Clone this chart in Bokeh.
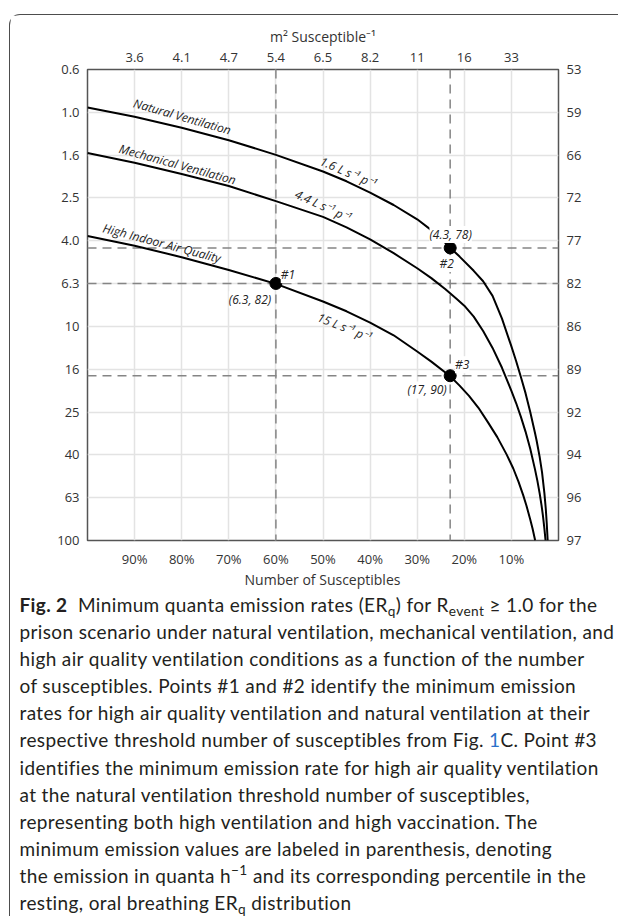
import math
from bokeh.plotting import figure
from bokeh.models import FixedTicker, LinearAxis, LogAxis, Range1d, Label, Div, Span
from bokeh.layouts import column
from bokeh.embed import file_html
from bokeh.resources import INLINE
from bokeh.core.properties import value

# ---------------- data ----------------
pct_ticks = [90, 80, 70, 60, 50, 40, 30, 20, 10]
pct_tick_labels = ["90%", "80%", "70%", "60%", "50%", "40%", "30%", "20%", "10%"]
area_tick_labels = ["3.6", "4.1", "4.7", "5.4", "6.5", "8.2", "11", "16", "33"]
er_ticks = [0.631, 1.0, 1.585, 2.512, 3.981, 6.31, 10.0, 15.85, 25.12, 39.81, 63.1, 100.0]
er_tick_labels = ["0.6", "1.0", "1.6", "2.5", "4.0", "6.3", "10", "16", "25", "40", "63", "100"]
percentile_tick_labels = ["53", "59", "66", "72", "77", "82", "86", "89", "92", "94", "96", "97"]

natural_pct = [100, 90, 80, 70, 60, 50, 45, 40, 35, 30, 27, 24, 23, 21, 18, 16, 14, 12, 10, 9, 8,
               7, 6, 5, 4.65, 4, 3.5, 3, 2.7, 2.5, 2.3]
natural_er = [0.95, 1.05, 1.18, 1.35, 1.58, 1.89, 2.1, 2.37, 2.71, 3.16, 3.55, 4.08, 4.29, 4.72, 5.5,
              6.15, 7.2, 9.2, 12.4, 14.5, 17.2, 20.5, 25.1, 31.4, 34.1, 40.7, 47.9, 59.9, 71.1, 82.8, 100]

mechanical_pct = [100, 90, 80, 70, 60, 50, 45, 40, 35, 30, 27, 24, 21.6, 20, 18, 16, 14, 12, 10, 9,
                  8, 7, 6, 5, 4.5, 4, 3.6, 3.3, 3, 2.75]
mechanical_er = [1.55, 1.72, 1.94, 2.21, 2.6, 3.08, 3.45, 3.92, 4.55, 5.35, 5.95, 6.7, 7.44, 8.0, 9.0,
                 10.5, 12.6, 15.6, 20.0, 22.8, 26.4, 31.0, 37.3, 46.4, 52.4, 60.2, 68.5, 76.7, 87.8, 100]

hiaq_pct = [100, 90, 80, 70, 60, 50, 45, 40, 35, 30, 27, 23, 21, 19, 17, 15, 13, 11, 9.6, 8.5, 7.5,
            6.8, 6, 5.5, 4.95]
hiaq_er = [3.78, 4.2, 4.75, 5.45, 6.33, 7.65, 8.5, 9.6, 11.0, 13.1, 14.6, 17.1, 18.9, 21.1, 24.0, 28.0,
           32.9, 39.7, 46.1, 53.1, 61.4, 68.8, 79.8, 88.1, 100]

point_names = ["#1", "#2", "#3"]
point_pct = [60, 23, 23]
point_er = [6.3, 4.3, 17]
point_pctile = [82, 78, 90]
ref_vlines_pct = [60, 23]
ref_hlines_er = [4.3, 6.3, 17]

curve_names = ["Natural Ventilation", "Mechanical Ventilation", "High Indoor Air Quality"]
flow_names = ["1.6 L s\u207b\u00b9 p\u207b\u00b9", "4.4 L s\u207b\u00b9 p\u207b\u00b9", "15 L s\u207b\u00b9 p\u207b\u00b9"]

# ---------------- figure ----------------
FONT = "Open Sans"
TXT = "#333333"

p = figure(frame_width=471, frame_height=471,
           x_range=Range1d(100, 0), y_range=Range1d(100, 0.631),
           y_axis_type="log", output_backend="svg", toolbar_location=None,
           min_border_left=77, min_border_right=56, min_border_top=54, min_border_bottom=30,
           background_fill_color="white", border_fill_color="white")
p.outline_line_color = "#555555"
p.outline_line_width = 1.5


def style_axis(ax, standoff):
    ax.major_tick_line_color = None
    ax.minor_tick_line_color = None
    ax.major_tick_out = 0
    ax.major_tick_in = 0
    ax.axis_line_color = None
    ax.major_label_text_font = FONT
    ax.major_label_text_font_size = "13px"
    ax.major_label_text_color = TXT
    ax.major_label_standoff = standoff


xax = p.xaxis[0]
xax.ticker = FixedTicker(ticks=pct_ticks)
xax.major_label_overrides = {t: l for t, l in zip(pct_ticks, pct_tick_labels)}
style_axis(xax, 9)

yax = p.yaxis[0]
yax.ticker = FixedTicker(ticks=er_ticks)
yax.major_label_overrides = {t: l for t, l in zip(er_ticks, er_tick_labels)}
style_axis(yax, 8)

top = LinearAxis(ticker=FixedTicker(ticks=pct_ticks),
                 major_label_overrides={t: l for t, l in zip(pct_ticks, area_tick_labels)},
                 axis_label="m\u00b2 Susceptible\u207b\u00b9")
style_axis(top, 8)
top.axis_label_text_font = FONT
top.axis_label_text_font_size = "14px"
top.axis_label_text_font_style = "normal"
top.axis_label_text_color = TXT
top.axis_label_standoff = 4
p.add_layout(top, "above")

right = LogAxis(ticker=FixedTicker(ticks=er_ticks),
                major_label_overrides={t: l for t, l in zip(er_ticks, percentile_tick_labels)})
style_axis(right, 8)
p.add_layout(right, "right")

p.xgrid.ticker = FixedTicker(ticks=pct_ticks)
p.ygrid.ticker = FixedTicker(ticks=er_ticks)
for g in (p.xgrid[0], p.ygrid[0]):
    g.grid_line_color = "#e3e3e3"
    g.grid_line_width = 1.5

# reference dashed lines (under the curves and markers)
for xv in ref_vlines_pct:
    p.add_layout(Span(location=xv, dimension="height", line_color="#858585",
                      line_width=1.5, line_dash="9 6", level="underlay"))
for yv in ref_hlines_er:
    p.add_layout(Span(location=yv, dimension="width", line_color="#858585",
                      line_width=1.5, line_dash="9 6", level="underlay"))

# curves
for xs, ys in ((natural_pct, natural_er), (mechanical_pct, mechanical_er), (hiaq_pct, hiaq_er)):
    p.line(xs, ys, line_color="black", line_width=2, line_join="round")

p.scatter(point_pct, point_er, size=12, color="black")

# curve labels (italic, rotated)
deg = math.pi / 180
curve_lab_x = [79.9, 80.9, 84.2]
curve_lab_y = [1.046, 1.748, 4.08]
curve_lab_a = [-16 * deg, -15.4 * deg, -14.8 * deg]
p.text(curve_lab_x, curve_lab_y, text=curve_names, angle=curve_lab_a,
       text_font=value(FONT), text_font_style="italic", text_font_size="12px",
       text_color="#222222", text_align="center", text_baseline="middle")

flow_lab_x = [44.65, 50.0, 45.45]
flow_lab_y = [1.905, 2.73, 10.08]
flow_lab_a = [-23.6 * deg, -25 * deg, -22 * deg]
p.text(flow_lab_x, flow_lab_y, text=flow_names, angle=flow_lab_a,
       text_font=value(FONT), text_font_style="italic", text_font_size="12px",
       text_color="#222222", text_align="center", text_baseline="middle")

# point labels (white backing, above the lines)
name_x = [57.45, 23.76, 20.45]
name_y = [5.73, 5.09, 15.1]
p.text(name_x, name_y, text=point_names,
       text_font=value(FONT), text_font_style="italic", text_font_size="12px",
       text_color="#222222", text_align="center", text_baseline="middle",
       background_fill_color="white", level="overlay")
val_text = ["(%g, %d)" % (e, q) for e, q in zip(point_er, point_pctile)]
val_x = [65.5, 22.9, 27.9]
val_y = [7.5, 3.72, 19.8]
p.text(val_x, val_y, text=val_text,
       text_font=value(FONT), text_font_style="italic", text_font_size="12px",
       text_color="#222222", text_align="center", text_baseline="middle",
       background_fill_color="white", level="overlay")


# rotated axis titles built from pieces (for the subscript q)
def rotated_title(x_data, pieces, total):
    cum = -total / 2.0
    for txt, size, dx, width in pieces:
        p.add_layout(Label(x=x_data, y=7.94, text=txt, angle=math.pi / 2,
                           x_offset=dx, y_offset=cum,
                           text_font=FONT, text_font_size=size, text_color=TXT,
                           text_align="left", text_baseline="alphabetic"))
        cum += width


left_pieces = [("ER", "15px", 0, 17.6), ("q", "10.5px", 4, 6.6),
               (" (quanta h", "15px", 0, 71.0), ("-1", "10px", -6, 8.6), (")", "15px", 0, 4.5)]
rotated_title(108.6, left_pieces, sum(w for *_, w in left_pieces))

right_pieces = [("ER", "15px", 0, 17.6), ("q", "10.5px", 4, 6.6),
                (" Percentile (Resting, Oral Breathing)", "15px", 0, 247.5)]
rotated_title(-9.0, right_pieces, sum(w for *_, w in right_pieces))

# ---------------- caption ----------------
SUB = '<sub style="font-size:72%;vertical-align:-0.3em;line-height:0">'
SUP = '<sup style="font-size:72%;vertical-align:0.55em;line-height:0">'
caption_lines = [
    '<b>Fig. 2</b>&nbsp; Minimum quanta emission rates (ER' + SUB + 'q</sub>) for R' + SUB
    + 'event</sub> \u2265 1.0 for the',
    'prison scenario under natural ventilation, mechanical ventilation, and',
    'high air quality ventilation conditions as a function of the number',
    'of susceptibles. Points #1 and #2 identify the minimum emission',
    'rates for high air quality ventilation and natural ventilation at their',
    'respective threshold number of susceptibles from Fig. <span style="color:#2a6fc9">1</span>C. Point #3',
    'identifies the minimum emission rate for high air quality ventilation',
    'at the natural ventilation threshold number of susceptibles,',
    'representing both high ventilation and high vaccination. The',
    'minimum emission values are labeled in parenthesis, denoting',
    'the emission in quanta h' + SUP + '\u22121</sup> and its corresponding percentile in the',
    'resting, oral breathing ER' + SUB + 'q</sub> distribution',
]
html = ('<div style="width:608px;white-space:nowrap;">'
        '<div style="margin-left:77px;width:471px;text-align:center;height:21px;line-height:19px;'
        'font-family:\'Open Sans\';font-size:14px;color:#333333;">Number of Susceptibles</div>'
        + ''.join('<div style="height:27.1px;line-height:27.1px;padding-left:9.5px;letter-spacing:0.37px;'
                  'font-family:Lato;font-size:19px;color:#231f20;">' + ln + '</div>'
                  for ln in caption_lines)
        + '</div>')
cap = Div(text=html, width=608, height=346, margin=0)

box = column(p, cap, margin=(14, 0, 0, 9),
             styles={"border-top": "1.5px solid #4d4d4d", "border-left": "1.5px solid #4d4d4d",
                     "border-top-left-radius": "11px", "background": "white"})

open("out.html", "w").write(file_html(box, INLINE))
